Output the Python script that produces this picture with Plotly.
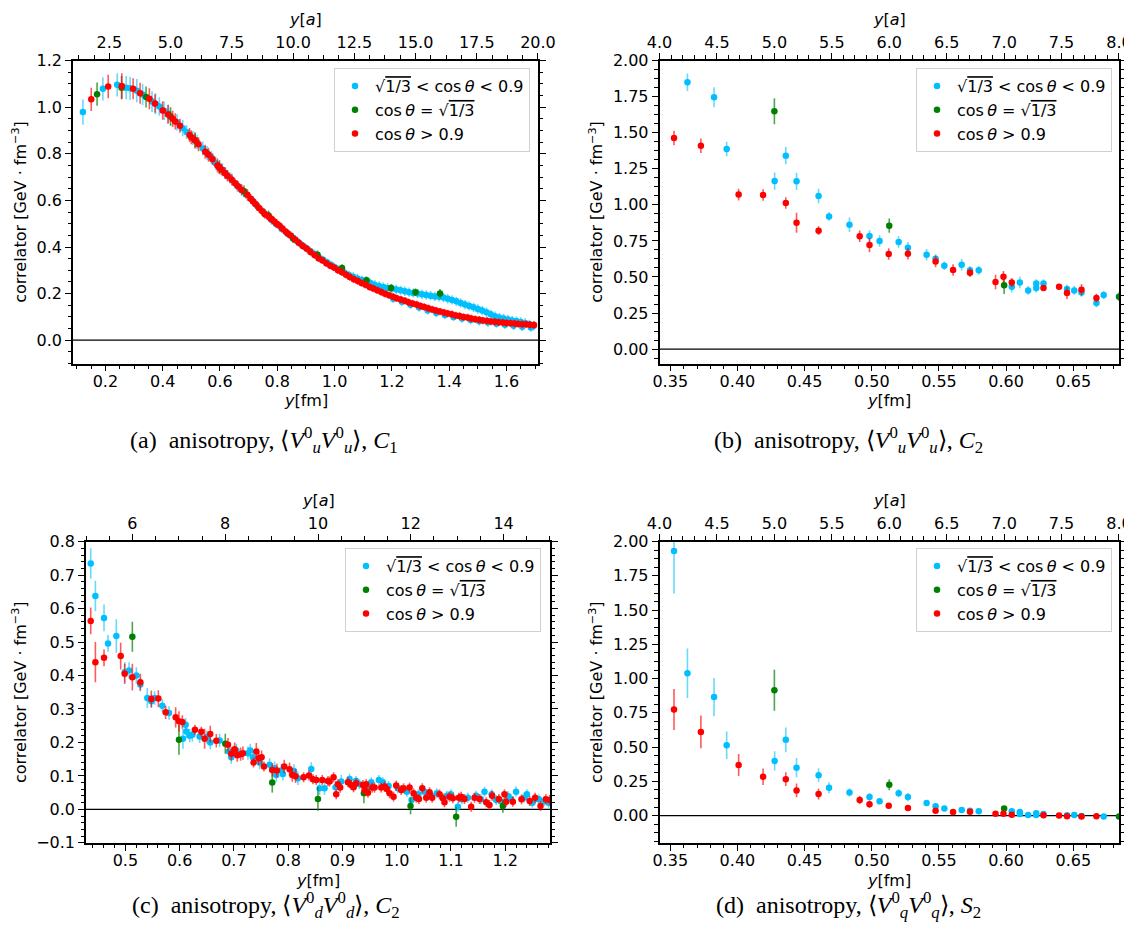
import plotly.graph_objects as go

A_FM = 0.0855  # lattice spacing used for the top axis ranges

# ---------------- panel (a) ----------------
a_cyan_x = [0.1217, 0.1913, 0.2412, 0.2725, 0.2864, 0.3096, 0.3300, 0.3629, 0.3750, 0.3884, 0.4050, 0.4200,
            0.4500, 0.4700, 0.4835, 0.5050, 0.5200, 0.5400, 0.5550, 0.5700, 0.5850, 0.6087, 0.6200, 0.6350,
            0.6600, 0.6750, 0.6900, 0.7150, 0.7300, 0.7550, 0.7800, 0.7950, 0.8150, 0.8350,
            0.855, 0.870, 0.885, 0.900, 0.915, 0.930, 0.945, 0.960, 0.975, 0.990, 1.005, 1.020, 1.035, 1.050,
            1.065, 1.080, 1.095, 1.110, 1.125, 1.140, 1.155, 1.170, 1.185, 1.200, 1.215, 1.230, 1.245, 1.260,
            1.275, 1.290, 1.305, 1.320, 1.335, 1.350, 1.365, 1.380, 1.395, 1.410, 1.425, 1.440, 1.455, 1.470,
            1.485, 1.500, 1.515, 1.530, 1.545, 1.560, 1.575, 1.590, 1.605, 1.620, 1.635, 1.650, 1.665, 1.680,
            1.695,
            1.205, 1.235, 1.265, 1.295, 1.325, 1.355, 1.385, 1.415, 1.445, 1.475, 1.505, 1.535, 1.565, 1.595,
            1.625, 1.655, 1.685]
a_cyan_y = [0.979, 1.079, 1.096, 1.084, 1.081, 1.071, 1.055, 1.024, 1.015, 1.003, 0.985, 0.972,
            0.935, 0.910, 0.894, 0.868, 0.850, 0.823, 0.803, 0.784, 0.760, 0.731, 0.715, 0.697,
            0.663, 0.645, 0.628, 0.597, 0.576, 0.545, 0.516, 0.500, 0.478, 0.458,
            0.440, 0.425, 0.410, 0.397, 0.383, 0.370, 0.356, 0.345, 0.333, 0.322, 0.310, 0.300, 0.290, 0.280,
            0.272, 0.265, 0.258, 0.252, 0.245, 0.238, 0.233, 0.228, 0.224, 0.222, 0.218, 0.214, 0.210, 0.206,
            0.203, 0.200, 0.197, 0.194, 0.191, 0.188, 0.186, 0.183, 0.178, 0.173, 0.167, 0.160, 0.153, 0.147,
            0.141, 0.134, 0.127, 0.120, 0.111, 0.103, 0.097, 0.093, 0.089, 0.085, 0.082, 0.078, 0.074, 0.068,
            0.062,
            0.178, 0.165, 0.152, 0.140, 0.128, 0.117, 0.108, 0.100, 0.093, 0.087, 0.081, 0.076, 0.071, 0.066,
            0.062, 0.058, 0.054]
a_cyan_e = [0.054, 0.05, 0.05, 0.05, 0.05, 0.05, 0.045, 0.045, 0.045, 0.04, 0.04, 0.04,
            0.035, 0.035, 0.03, 0.03, 0.03, 0.03, 0.03, 0.028, 0.028, 0.028, 0.025, 0.025,
            0.025, 0.025, 0.022, 0.022, 0.02, 0.02, 0.02, 0.02, 0.018, 0.018] + [0.018] * 14 + [0.02] * 43 + [0.018] * 17

a_green_x = [0.171, 0.2565, 0.342, 0.4275, 0.513, 0.5985, 0.684, 0.7695, 0.855, 0.9405, 1.026, 1.1115, 1.197, 1.2825, 1.368]
a_green_y = [1.056, 1.084, 1.044, 0.960, 0.858, 0.742, 0.639, 0.535, 0.437, 0.367, 0.310, 0.257, 0.224, 0.206, 0.200]
a_green_e = [0.05, 0.05, 0.045, 0.04, 0.035, 0.03, 0.025, 0.022, 0.02, 0.018, 0.016, 0.016, 0.016, 0.016, 0.02]

a_red_x = [0.1507, 0.2099, 0.2574, 0.2968, 0.3212, 0.3536, 0.3733, 0.4000, 0.4185, 0.4348, 0.4441, 0.4603,
           0.4939, 0.4997, 0.5136, 0.5252, 0.5484, 0.5600, 0.5739, 0.5913, 0.5971, 0.6050, 0.6170, 0.6261,
           0.6412, 0.6528, 0.6640, 0.6760, 0.6957, 0.7072, 0.7160, 0.7250, 0.7362, 0.7478, 0.7570, 0.7710,
           0.7800, 0.7896, 0.7980, 0.8081, 0.8180, 0.8290, 0.8370, 0.8464,
           0.862, 0.875, 0.889, 0.903, 0.916, 0.930, 0.944, 0.957, 0.971, 0.985, 0.998, 1.012, 1.026, 1.040,
           1.053, 1.067, 1.081, 1.094, 1.108, 1.122, 1.135, 1.149, 1.163, 1.176, 1.190, 1.204, 1.217, 1.231,
           1.245, 1.258, 1.272, 1.286, 1.300, 1.313, 1.327, 1.341, 1.354, 1.368, 1.382, 1.395, 1.409, 1.423,
           1.436, 1.450, 1.464, 1.477, 1.491, 1.505, 1.518, 1.532, 1.546, 1.559, 1.573, 1.587, 1.600, 1.614,
           1.628, 1.641, 1.655, 1.669, 1.682, 1.696]
a_red_y = [1.034, 1.089, 1.091, 1.079, 1.060, 1.036, 1.016, 0.986, 0.969, 0.950, 0.939, 0.920,
           0.881, 0.871, 0.857, 0.841, 0.809, 0.796, 0.777, 0.750, 0.741, 0.733, 0.718, 0.706,
           0.689, 0.674, 0.660, 0.645, 0.624, 0.607, 0.595, 0.583, 0.567, 0.553, 0.541, 0.529,
           0.520, 0.510, 0.500, 0.491, 0.479, 0.467, 0.458, 0.449,
           0.432, 0.418, 0.404, 0.392, 0.379, 0.366, 0.352, 0.343, 0.330, 0.320, 0.312, 0.300, 0.292, 0.281,
           0.271, 0.262, 0.254, 0.245, 0.238, 0.228, 0.222, 0.214, 0.207, 0.199, 0.193, 0.187, 0.180, 0.175,
           0.169, 0.163, 0.158, 0.153, 0.147, 0.143, 0.137, 0.132, 0.127, 0.123, 0.119, 0.115, 0.111, 0.106,
           0.104, 0.100, 0.097, 0.093, 0.090, 0.088, 0.085, 0.083, 0.080, 0.079, 0.077, 0.076, 0.074, 0.073,
           0.072, 0.070, 0.069, 0.068, 0.066, 0.065]
a_red_e = [0.05, 0.05, 0.055, 0.045, 0.045, 0.045, 0.04, 0.04, 0.04, 0.035, 0.035, 0.03,
           0.03, 0.03, 0.03, 0.03, 0.03, 0.03, 0.025, 0.03, 0.025, 0.025, 0.025, 0.025,
           0.025, 0.02, 0.022, 0.022, 0.025, 0.02, 0.02, 0.02, 0.02, 0.02, 0.02, 0.02,
           0.018, 0.018, 0.018, 0.018, 0.016, 0.016, 0.016, 0.016] + [0.016] * 62

# ---------------- panel (b) ----------------
b_cyan_x = [0.3628, 0.3826, 0.3920, 0.4277, 0.4360, 0.4440, 0.4604, 0.4682, 0.4834, 0.4983, 0.5058, 0.5200,
            0.5269, 0.5408, 0.5475, 0.5540, 0.5669, 0.5731, 0.5796, 0.6042, 0.6102, 0.6164, 0.6224, 0.6224,
            0.6278, 0.6453, 0.6507, 0.6561, 0.6672, 0.6726]
b_cyan_y = [1.850, 1.746, 1.387, 1.165, 1.341, 1.163, 1.061, 0.920, 0.862, 0.784, 0.749, 0.742,
            0.703, 0.654, 0.627, 0.578, 0.585, 0.546, 0.546, 0.432, 0.462, 0.407, 0.423, 0.455,
            0.455, 0.416, 0.407, 0.393, 0.319, 0.375]
b_cyan_e = [0.06, 0.07, 0.05, 0.06, 0.06, 0.06, 0.05, 0.03, 0.05, 0.04, 0.04, 0.04,
            0.04, 0.04, 0.03, 0.03, 0.04, 0.03, 0.03, 0.04, 0.04, 0.03, 0.03, 0.03,
            0.03, 0.03, 0.03, 0.03, 0.03, 0.03]
b_green_x = [0.4275, 0.5130, 0.5985, 0.6840]
b_green_y = [1.649, 0.856, 0.442, 0.363]
b_green_e = [0.09, 0.05, 0.06, 0.03]
b_red_x = [0.3528, 0.3728, 0.4009, 0.4191, 0.4360, 0.4440, 0.4604, 0.4910, 0.4983, 0.5126, 0.5269, 0.5475,
           0.5605, 0.5731, 0.5921, 0.5980, 0.6042, 0.6278, 0.6394, 0.6453, 0.6561, 0.6672]
b_red_y = [1.464, 1.410, 1.071, 1.068, 1.013, 0.876, 0.821, 0.782, 0.721, 0.659, 0.661, 0.608,
           0.548, 0.529, 0.465, 0.502, 0.462, 0.423, 0.432, 0.388, 0.412, 0.354]
b_red_e = [0.05, 0.05, 0.04, 0.04, 0.04, 0.07, 0.03, 0.04, 0.05, 0.04, 0.04, 0.04,
           0.04, 0.03, 0.05, 0.04, 0.03, 0.02, 0.02, 0.04, 0.04, 0.03]

# ---------------- panel (c) ----------------
c_cyan_x = [0.4362, 0.4448, 0.4607, 0.4681, 0.4834, 0.4988, 0.5068, 0.5203, 0.5276, 0.5405, 0.5479, 0.5540,
            0.5681, 0.5804, 0.6062, 0.6111, 0.6123, 0.6185, 0.6234, 0.6369, 0.6504, 0.6565, 0.6737, 0.6909,
            0.6952, 0.7044, 0.7259, 0.7302, 0.7351, 0.7474, 0.7658, 0.7750, 0.7781, 0.7873, 0.7904, 0.8107,
            0.8180, 0.8426, 0.8579, 0.8671, 0.8874, 0.8978, 0.9132, 0.9250, 0.9316, 0.9450, 0.9531, 0.9672,
            0.9746, 0.9850, 1.0022, 1.0188, 1.0274, 1.0400, 1.0513, 1.0650, 1.0740, 1.0924, 1.1000, 1.1127,
            1.1200, 1.1311, 1.1465, 1.1550, 1.1618, 1.1750, 1.1833, 1.1950, 1.2050, 1.2109, 1.2200, 1.2350,
            1.2400, 1.2500, 1.2550, 1.2620, 1.2720, 1.2800]
c_cyan_y = [0.735, 0.638, 0.572, 0.496, 0.518, 0.410, 0.415, 0.400, 0.373, 0.333, 0.323, 0.333,
            0.310, 0.288, 0.211, 0.253, 0.233, 0.220, 0.223, 0.218, 0.216, 0.200, 0.206, 0.173,
            0.156, 0.176, 0.168, 0.176, 0.156, 0.140, 0.133, 0.123, 0.103, 0.116, 0.106, 0.115,
            0.093, 0.121, 0.063, 0.063, 0.066, 0.083, 0.091, 0.085, 0.075, 0.060, 0.081, 0.088,
            0.081, 0.070, 0.063, 0.053, 0.028, 0.045, 0.053, 0.040, 0.048, 0.041, 0.045, 0.008,
            0.030, 0.035, 0.041, 0.030, 0.053, 0.045, 0.028, 0.020, 0.040, 0.031, 0.053, 0.035,
            0.045, 0.020, 0.030, 0.030, 0.025, 0.020]
c_cyan_e = [0.045, 0.045, 0.04, 0.025, 0.05, 0.03, 0.025, 0.025, 0.02, 0.03, 0.02, 0.02,
            0.02, 0.02, 0.03, 0.02, 0.02, 0.02, 0.02, 0.02, 0.02, 0.02, 0.02, 0.02,
            0.02, 0.02, 0.02, 0.02, 0.02, 0.02, 0.02, 0.02, 0.02, 0.02, 0.02, 0.02,
            0.02, 0.02, 0.02, 0.02, 0.02, 0.02] + [0.015] * 36
c_green_x = [0.5129, 0.5988, 0.6842, 0.7707, 0.8549, 0.9396, 1.0255, 1.1096, 1.1956]
c_green_y = [0.516, 0.208, 0.196, 0.080, 0.031, 0.048, 0.010, -0.022, 0.010]
c_green_e = [0.045, 0.045, 0.03, 0.03, 0.035, 0.03, 0.025, 0.03, 0.02]
c_red_x = [0.4362, 0.4448, 0.4607, 0.4914, 0.4988, 0.5129, 0.5276, 0.5479, 0.5608, 0.5743, 0.5927, 0.5988,
           0.6050, 0.6283, 0.6400, 0.6461, 0.6565, 0.6676, 0.6891, 0.6952, 0.7014, 0.7063, 0.7124, 0.7167,
           0.7363, 0.7413, 0.7456, 0.7511, 0.7554, 0.7707, 0.7793, 0.7928, 0.8026, 0.8076, 0.8137, 0.8285,
           0.8383, 0.8457, 0.8518, 0.8628, 0.8733, 0.8763, 0.8837, 0.8886, 0.8917, 0.8959, 0.9101, 0.9162,
           0.9205, 0.9255, 0.9377, 0.9408, 0.9439, 0.9470, 0.9549, 0.9592, 0.9715, 0.9776, 0.9819, 0.9868,
           0.9942, 0.9991, 1.0083, 1.0126, 1.0237, 1.0311, 1.0360, 1.0410, 1.0471, 1.0544, 1.0605, 1.0654,
           1.0789, 1.0850, 1.0881, 1.0973, 1.1035, 1.1145, 1.1188, 1.1249, 1.1372, 1.1434, 1.1526, 1.1649,
           1.1710, 1.1759, 1.1882, 1.1986, 1.2017, 1.2140, 1.2300, 1.2450, 1.2550, 1.2650, 1.2750, 1.2820]
c_red_y = [0.563, 0.440, 0.453, 0.458, 0.405, 0.395, 0.380, 0.330, 0.331, 0.290, 0.275, 0.263,
           0.261, 0.238, 0.232, 0.211, 0.225, 0.205, 0.193, 0.166, 0.180, 0.162, 0.165, 0.168,
           0.140, 0.173, 0.153, 0.156, 0.128, 0.118, 0.116, 0.128, 0.120, 0.103, 0.099, 0.096,
           0.101, 0.090, 0.088, 0.088, 0.085, 0.083, 0.096, 0.045, 0.075, 0.065, 0.081, 0.073,
           0.066, 0.078, 0.073, 0.058, 0.075, 0.050, 0.065, 0.065, 0.065, 0.068, 0.061, 0.048,
           0.038, 0.071, 0.058, 0.063, 0.065, 0.048, 0.035, 0.031, 0.063, 0.035, 0.051, 0.035,
           0.045, 0.033, 0.021, 0.038, 0.033, 0.035, 0.038, 0.031, 0.008, 0.035, 0.031, 0.021,
           0.013, 0.041, 0.031, 0.045, 0.023, 0.023, 0.030, 0.025, 0.035, 0.010, 0.030, 0.028]
c_red_e = [0.04, 0.06, 0.025, 0.04, 0.03, 0.04, 0.025, 0.025, 0.025, 0.02, 0.03, 0.03,
           0.02, 0.015, 0.015, 0.03, 0.025, 0.02, 0.02, 0.02, 0.02, 0.02, 0.02, 0.02,
           0.015, 0.025, 0.02, 0.02, 0.015, 0.02, 0.02, 0.02, 0.02, 0.02, 0.02] + [0.015] * 61

# ---------------- panel (d) ----------------
d_cyan_x = [0.3528, 0.3628, 0.3826, 0.3920, 0.4277, 0.4360, 0.4440, 0.4604, 0.4682, 0.4834, 0.4983, 0.5058,
            0.5200, 0.5269, 0.5408, 0.5475, 0.5540, 0.5669, 0.5731, 0.5796, 0.6042, 0.6102, 0.6102, 0.6164,
            0.6224, 0.6224, 0.6278, 0.6453, 0.6507, 0.6561, 0.6726]
d_cyan_y = [1.932, 1.039, 0.865, 0.514, 0.399, 0.553, 0.350, 0.295, 0.203, 0.169, 0.135, 0.104,
            0.164, 0.135, 0.092, 0.068, 0.051, 0.041, 0.036, 0.031, 0.031, 0.027, 0.012, 0.005,
            0.017, 0.005, 0.012, 0.002, 0.005, -0.002, -0.007]
d_cyan_e = [0.31, 0.18, 0.14, 0.10, 0.07, 0.09, 0.07, 0.05, 0.04, 0.03, 0.03, 0.02,
            0.03, 0.03, 0.02, 0.02, 0.015, 0.015, 0.01, 0.01, 0.01, 0.01, 0.01, 0.01,
            0.01, 0.01, 0.01, 0.01, 0.01, 0.01, 0.01]
d_green_x = [0.4275, 0.5130, 0.5985, 0.6840]
d_green_y = [0.915, 0.225, 0.051, -0.007]
d_green_e = [0.15, 0.04, 0.02, 0.01]
d_red_x = [0.3528, 0.3728, 0.4009, 0.4191, 0.4360, 0.4440, 0.4604, 0.4910, 0.4983, 0.5126, 0.5269, 0.5475,
           0.5605, 0.5731, 0.5921, 0.5980, 0.6042, 0.6278, 0.6394, 0.6453, 0.6561, 0.6672]
d_red_y = [0.775, 0.611, 0.370, 0.283, 0.266, 0.184, 0.157, 0.114, 0.082, 0.072, 0.056, 0.036,
           0.027, 0.029, 0.014, 0.014, 0.007, 0.002, 0.000, -0.005, -0.007, -0.005]
d_red_e = [0.15, 0.12, 0.08, 0.06, 0.05, 0.05, 0.04, 0.03, 0.025, 0.02, 0.02, 0.015,
           0.01, 0.01, 0.01, 0.01, 0.01, 0.01, 0.01, 0.01, 0.01, 0.01]

TS = "\u2009"  # thin space as in the math rendering
series_names = [f"√<span style='text-decoration:overline'>1/3</span> &lt; cos{TS}<i>θ</i> &lt; 0.9",
                f"cos{TS}<i>θ</i> = √<span style='text-decoration:overline'>1/3</span>",
                f"cos{TS}<i>θ</i> &gt; 0.9"]
series_colors = ["#00BFFF", "#008000", "#FF0000"]
error_colors = ["rgba(0,191,255,0.6)", "rgba(0,128,0,0.7)", "rgba(255,0,0,0.65)"]

captions = ["(a)  anisotropy, ⟨<i>V</i><sup>0</sup><sub><i>u</i></sub><i>V</i><sup>0</sup><sub><i>u</i></sub>⟩, <i>C</i><sub>1</sub>",
            "(b)  anisotropy, ⟨<i>V</i><sup>0</sup><sub><i>u</i></sub><i>V</i><sup>0</sup><sub><i>u</i></sub>⟩, <i>C</i><sub>2</sub>",
            "(c)  anisotropy, ⟨<i>V</i><sup>0</sup><sub><i>d</i></sub><i>V</i><sup>0</sup><sub><i>d</i></sub>⟩, <i>C</i><sub>2</sub>",
            "(d)  anisotropy, ⟨<i>V</i><sup>0</sup><sub><i>q</i></sub><i>V</i><sup>0</sup><sub><i>q</i></sub>⟩, <i>S</i><sub>2</sub>"]
bottom_title = "<i>y</i>[fm]"
top_title = "<i>y</i>[<i>a</i>]"
y_title = "correlator [GeV · fm<sup>−3</sup>]"

W, H = 1132, 930
# plot areas in pixels: (left, right, top, bottom)
boxes = [(65, 530, 52.5, 355.5), (651.5, 1111, 52.5, 355.5), (78, 542, 533.5, 835), (651.5, 1111, 533.5, 835)]
x_ranges = [(0.087, 1.71), (4 * A_FM, 8 * A_FM), (5 * A_FM, 15 * A_FM), (4 * A_FM, 8 * A_FM)]
y_ranges = [(-0.1, 1.2005), (-0.1, 2.001), (-0.1005, 0.8005), (-0.2, 2.001)]
x_dtick = [(0.2, 0.05, ".1f"), (0.05, 0.01, ".2f"), (0.1, 0.02, ".1f"), (0.05, 0.01, ".2f")]
top_dtick = [(2.5, 0.625, ".1f"), (0.5, 0.1, ".1f"), (2, 0.5, "d"), (0.5, 0.1, ".1f")]
y_dtick = [(0.2, 0.05, ".1f"), (0.25, 0.0625, ".2f"), (0.1, 0.02, ".1f"), (0.25, 0.0625, ".2f")]
caption_pos = [(256, 432), (840, 432), (258, 897), (840, 897)]
legend_pos = [(522, 60), (1104, 60), (533, 540), (1104, 540)]

panels = [
    [(a_cyan_x, a_cyan_y, a_cyan_e), (a_green_x, a_green_y, a_green_e), (a_red_x, a_red_y, a_red_e)],
    [(b_cyan_x, b_cyan_y, b_cyan_e), (b_green_x, b_green_y, b_green_e), (b_red_x, b_red_y, b_red_e)],
    [(c_cyan_x, c_cyan_y, c_cyan_e), (c_green_x, c_green_y, c_green_e), (c_red_x, c_red_y, c_red_e)],
    [(d_cyan_x, d_cyan_y, d_cyan_e), (d_green_x, d_green_y, d_green_e), (d_red_x, d_red_y, d_red_e)],
]

FONT = "DejaVu Sans"
FS = 16
fig = go.Figure()
layout = dict(width=W, height=H, margin=dict(l=0, r=0, t=0, b=0),
              plot_bgcolor="white", paper_bgcolor="white", showlegend=True,
              font=dict(family=FONT, size=FS, color="black"))
annotations, shapes = [], []

axis_common = dict(showline=True, linecolor="black", linewidth=1.6, ticks="outside", ticklen=6,
                   tickwidth=1.2, tickcolor="black", showgrid=False, zeroline=False, automargin=False,
                   tickfont=dict(family=FONT, size=FS, color="black"))

for i in range(4):
    bx = 2 * i + 1
    tx = 2 * i + 2
    yn = i + 1
    xb = "x" if bx == 1 else f"x{bx}"
    xt = f"x{tx}"
    yy = "y" if yn == 1 else f"y{yn}"
    leg = "legend" if i == 0 else f"legend{i + 1}"
    l, r, t, b = boxes[i]
    dom_x = [l / W, r / W]
    dom_y = [1 - b / H, 1 - t / H]

    for k, (xs, ys, es) in enumerate(panels[i]):
        fig.add_trace(go.Scatter(
            x=xs, y=ys, mode="markers", name=series_names[k],
            marker=dict(color=series_colors[k], size=6.5),
            error_y=dict(type="data", array=es, visible=True, width=0, thickness=1.6, color=error_colors[k]),
            xaxis=xb, yaxis=yy, legend=leg, legendgroup=f"g{i}{k}", showlegend=True,
        ))
    # invisible trace to attach the top axis
    fig.add_trace(go.Scatter(x=[], y=[], xaxis=xt, yaxis=yy, showlegend=False, hoverinfo="skip"))

    xr = x_ranges[i]
    major, minor, fmt = x_dtick[i]
    layout[f"xaxis{'' if bx == 1 else bx}"] = dict(
        axis_common, domain=dom_x, anchor=yy, range=list(xr), dtick=major, tick0=0, tickformat=fmt,
        ticklabelstandoff=-4,
        minor=dict(ticks="outside", ticklen=3.5, tickwidth=1, tickcolor="black", dtick=minor, tick0=0),
    )
    tmaj, tmin, tfmt = top_dtick[i]
    layout[f"xaxis{tx}"] = dict(
        axis_common, overlaying=xb, side="top", anchor=yy,
        range=[xr[0] / A_FM - 0.0005, xr[1] / A_FM + 0.0005], dtick=tmaj, tick0=0, tickformat=tfmt,
        ticklabelstandoff=-2,
        minor=dict(ticks="outside", ticklen=3.5, tickwidth=1, tickcolor="black", dtick=tmin, tick0=0),
    )
    ymaj, ymin, yfmt = y_dtick[i]
    layout[f"yaxis{'' if yn == 1 else yn}"] = dict(
        axis_common, domain=dom_y, anchor=xb, range=list(y_ranges[i]), dtick=ymaj, tick0=0,
        tickformat=yfmt, mirror="ticks",
        minor=dict(ticks="outside", ticklen=3.5, tickwidth=1, tickcolor="black", dtick=ymin, tick0=0),
        title=dict(text=y_title, font=dict(family=FONT, size=FS), standoff=6),
    )
    lx, ly = legend_pos[i]
    layout[leg] = dict(x=lx / W, y=1 - ly / H, xanchor="right", yanchor="top",
                       xref="paper", yref="paper",
                       bgcolor="rgba(255,255,255,0.85)", bordercolor="#d0d0d0", borderwidth=1,
                       font=dict(family=FONT, size=FS, color="black"), tracegroupgap=0, itemwidth=30)
    shapes.append(dict(type="line", xref=f"{xb} domain", yref=yy, x0=0, x1=1, y0=0, y1=0,
                       line=dict(color="black", width=1.2), layer="below"))
    # axis titles (x) placed as annotations relative to the plot area
    annotations.append(dict(text=bottom_title, xref=f"{xb} domain", yref="paper", x=0.5, y=1 - (b + 37) / H,
                            showarrow=False, xanchor="center", yanchor="middle",
                            font=dict(family=FONT, size=FS, color="black")))
    annotations.append(dict(text=top_title, xref=f"{xb} domain", yref="paper", x=0.5, y=1 - (t - 41) / H,
                            showarrow=False, xanchor="center", yanchor="middle",
                            font=dict(family=FONT, size=FS, color="black")))
    cx, cy = caption_pos[i]
    annotations.append(dict(text=captions[i], x=cx / W, y=1 - cy / H, xref="paper", yref="paper",
                            showarrow=False, xanchor="center", yanchor="middle",
                            font=dict(family="Liberation Serif", size=24, color="black")))

layout["annotations"] = annotations
layout["shapes"] = shapes
fig.update_layout(**layout)
fig.write_html("out.html")
